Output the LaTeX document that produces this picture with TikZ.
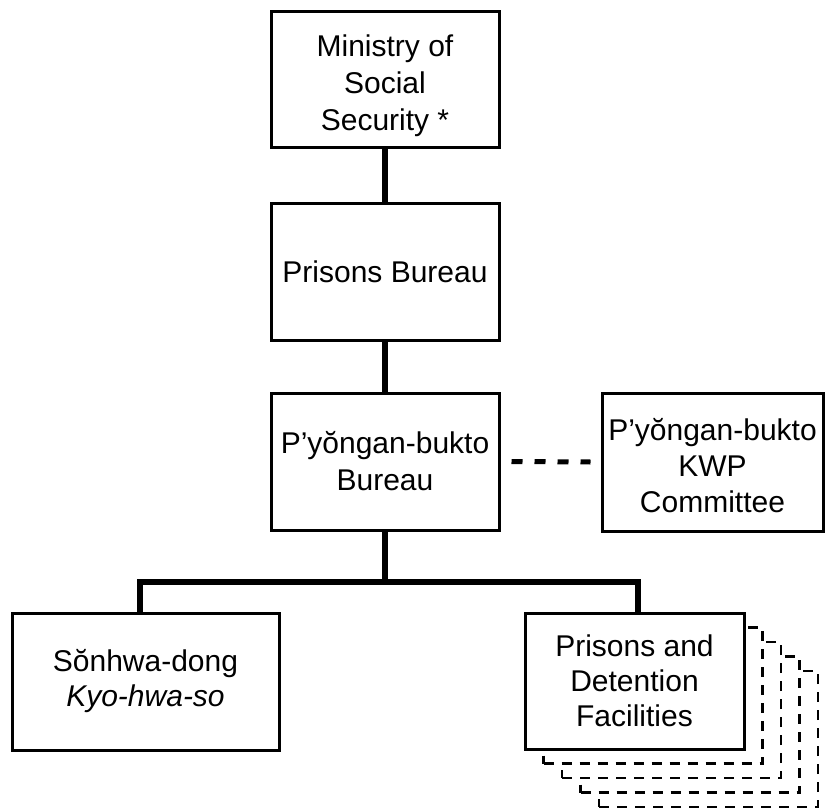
\documentclass[tikz,border=0pt]{standalone}
\usepackage{fontspec}
\setmainfont{Liberation Sans}
\begin{document}
\begin{tikzpicture}[x=1pt,y=1pt,
  box/.style={draw=black, line width=3pt, fill=white, align=center, inner sep=0pt,
    font=\fontsize{30}{37}\selectfont},
  lowbox/.style={box, font=\fontsize{30}{35}\selectfont},
  lbl/.style={align=center, inner sep=0pt, font=\fontsize{30}{37}\selectfont},
  dbox/.style={draw=black, line width=2.5pt, fill=white, dash pattern=on 10pt off 8pt,
    minimum width=219pt, minimum height=136pt, inner sep=0pt},
  conn/.style={draw=black, line width=5.5pt},
  dconn/.style={draw=black, line width=5pt, dash pattern=on 11pt off 12pt}]
\useasboundingbox (0,0) rectangle (825,-808);
\node[box, minimum width=228pt, minimum height=135pt] (m1) at (385,-79.5) {};
\node[lbl] (t1) at ([yshift=-6pt]m1.center) {Ministry of\\Social\\Security *};
\node[box, minimum width=228pt, minimum height=137pt] (m2) at (385,-271.5)
  {Prisons Bureau};
\node[box, minimum width=228pt, minimum height=137pt] (m3) at (385,-461.5)
  {P’yŏngan-bukto\\Bureau};
\node[box, minimum width=221pt, minimum height=138pt] (m4) at (712.5,-462) {};
\node[lbl, font=\fontsize{30}{36}\selectfont] (t4) at ([yshift=-4pt]m4.center)
  {P’yŏngan-bukto\\KWP\\Committee};
\node[lowbox, minimum width=267pt, minimum height=137pt] (m5) at (145.5,-681.5)
  {Sŏnhwa-dong\\\textit{Kyo-hwa-so}};
\node[dbox] (d4) at (634.5+74,-681-58) {};
\node[dbox] (d3) at (634.5+55.5,-681-43.5) {};
\node[dbox] (d2) at (634.5+37,-681-29) {};
\node[dbox] (d1) at (634.5+18.5,-681-14.5) {};
\node[lowbox, minimum width=219pt, minimum height=136pt] (m6) at (634.5,-681)
  {Prisons and\\Detention\\Facilities};
\coordinate (j) at (385,-582);
\draw[conn] (m1.south) -- (m2.north);
\draw[conn] (m2.south) -- (m3.north);
\draw[conn] (m3.south) -- (j);
\draw[conn] ([xshift=-5.5pt]m5.north) |- (j) -| ([xshift=3.5pt]m6.north);
\draw[dconn] ([xshift=11pt]m3.east) -- ([xshift=-10pt]m4.west);
\end{tikzpicture}
\end{document}
